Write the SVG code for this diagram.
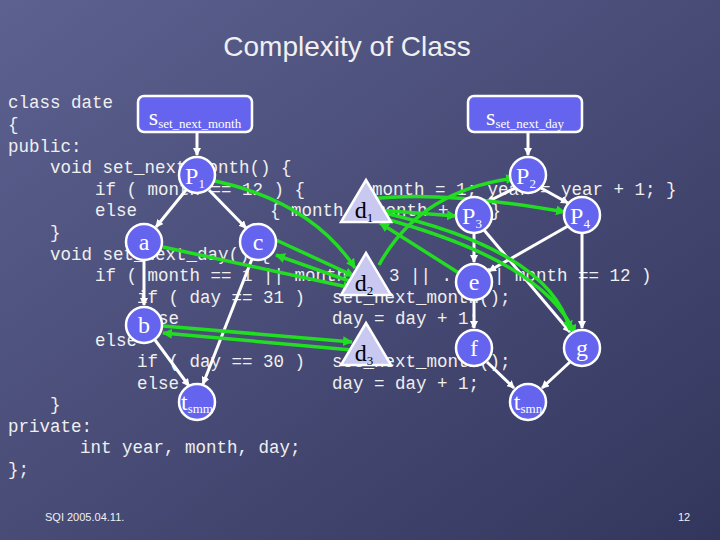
<svg xmlns="http://www.w3.org/2000/svg" width="720" height="540" viewBox="0 0 720 540">
<defs>
<linearGradient id="bg" x1="0" y1="0" x2="1" y2="1"><stop offset="0" stop-color="#5d6190"/><stop offset="1" stop-color="#33365c"/></linearGradient>
<marker id="wa" markerWidth="8" markerHeight="8" refX="7" refY="4" orient="auto" markerUnits="userSpaceOnUse"><path d="M0,0 L8,4 L0,8 Z" fill="#fff"/></marker>
<marker id="ga" markerWidth="10" markerHeight="10" refX="9" refY="5" orient="auto" markerUnits="userSpaceOnUse"><path d="M0,0 L10,5 L0,10 Z" fill="#22dd22"/></marker>
<style>
.code{font-family:"Liberation Mono",monospace;font-size:17.5px;fill:#f0f0f0;white-space:pre}
.nd{fill:#6464ee;stroke:#fff;stroke-width:2.5}
.tri{fill:#c8c8f0;stroke:#fff;stroke-width:2.5}
.lb{font-family:"Liberation Serif",serif;font-size:24px;fill:#fff;text-anchor:middle}
.lbd{font-family:"Liberation Serif",serif;font-size:24px;fill:#000;text-anchor:middle}
.sub{font-size:13px}
.w{stroke:#fff;stroke-width:3;fill:none}
.g{stroke:#22dd22;stroke-width:3.5;fill:none;marker-end:url(#ga)}
</style>
</defs>
<rect width="720" height="540" fill="url(#bg)"/>
<text x="347" y="56" font-family="Liberation Sans,sans-serif" font-size="28" fill="#f0f0f0" text-anchor="middle">Complexity of Class</text>
<g id="code">
<text class="code" x="8" y="108">class date</text>
<text class="code" x="8" y="130">{</text>
<text class="code" x="8" y="152">public:</text>
<text class="code" x="50" y="173">void set_next_month() {</text>
<text class="code" x="95" y="195">if ( month == 12 ) {</text>
<text class="code" x="372" y="195">month = 1; year = year + 1; }</text>
<text class="code" x="95" y="216">else</text>
<text class="code" x="270" y="216">{ month = month + 1; }</text>
<text class="code" x="50" y="238">}</text>
<text class="code" x="50" y="260">void set_next_day() {</text>
<text class="code" x="95" y="281">if ( month == 1 || month == 3 || ... || month == 12 )</text>
<text class="code" x="137" y="303">if ( day == 31 )</text>
<text class="code" x="332" y="303">set_next_month();</text>
<text class="code" x="137" y="324">else</text>
<text class="code" x="332" y="324">day = day + 1;</text>
<text class="code" x="95" y="346">else</text>
<text class="code" x="137" y="367">if ( day == 30 )</text>
<text class="code" x="332" y="367">set_next_month();</text>
<text class="code" x="137" y="389">else</text>
<text class="code" x="332" y="389">day = day + 1;</text>
<text class="code" x="50" y="410">}</text>
<text class="code" x="8" y="432">private:</text>
<text class="code" x="80" y="453">int year, month, day;</text>
<text class="code" x="8" y="475">};</text>
</g>
<g id="connectors">
<line class="w" x1="197" y1="132" x2="197" y2="155" marker-end="url(#wa)"/>
<line class="w" x1="186" y1="190" x2="156" y2="227" marker-end="url(#wa)"/>
<line class="w" x1="209" y1="190" x2="246" y2="228" marker-end="url(#wa)"/>
<line class="w" x1="144" y1="260" x2="144" y2="305" marker-end="url(#wa)"/>
<line class="w" x1="252" y1="259" x2="203" y2="384" marker-end="url(#wa)"/>
<line class="w" x1="155" y1="340" x2="189" y2="386" marker-end="url(#wa)"/>
<line class="w" x1="528" y1="132" x2="528" y2="155" marker-end="url(#wa)"/>
<line class="w" x1="515" y1="188" x2="487" y2="202" marker-end="url(#wa)"/>
<line class="w" x1="541" y1="188" x2="568" y2="203" marker-end="url(#wa)"/>
<line class="w" x1="474" y1="233" x2="474" y2="262" marker-end="url(#wa)"/>
<line class="w" x1="484" y1="230" x2="570" y2="332" marker-end="url(#wa)"/>
<line class="w" x1="568" y1="226" x2="489" y2="271" marker-end="url(#wa)"/>
<line class="w" x1="582" y1="233" x2="582" y2="328" marker-end="url(#wa)"/>
<line class="w" x1="474" y1="300" x2="474" y2="328" marker-end="url(#wa)"/>
<line class="w" x1="487" y1="362" x2="514" y2="388" marker-end="url(#wa)"/>
<line class="w" x1="570" y1="362" x2="542" y2="388" marker-end="url(#wa)"/>
<path class="g" d="M210,180 Q310,200 355,268"/>
<path class="g" d="M163,247 L352,288"/>
<path class="g" d="M276,240 L354,276"/>
<path class="g" d="M352,282 L276,255"/>
<path class="g" d="M163,326 L352,342"/>
<path class="g" d="M352,350 L163,333"/>
<path class="g" d="M379,265 Q420,190 515,178"/>
<path class="g" d="M370,199 Q440,190 565,212"/>
<path class="g" d="M377,210 L456,216"/>
<path class="g" d="M462,275 L380,223"/>
<path class="g" d="M380,212 Q550,250 570,330"/>
<path class="g" d="M382,218 Q545,262 575,334"/>
</g>
<g id="s_set_next_month"><rect x="138" y="96" width="114" height="36" rx="6" class="nd"/><text class="lb" x="195" y="125">s<tspan class="sub" dy="3">set_next_month</tspan></text></g>
<g id="s_set_next_day"><rect x="468" y="96" width="114" height="36" rx="6" class="nd"/><text class="lb" x="525" y="125">s<tspan class="sub" dy="3">set_next_day</tspan></text></g>
<g id="P1"><circle class="nd" cx="197" cy="175" r="18"/><text class="lb" x="195" y="184">P<tspan class="sub" dy="4">1</tspan></text></g>
<g id="a"><circle class="nd" cx="144" cy="242" r="18"/><text class="lb" x="144" y="250">a</text></g>
<g id="c"><circle class="nd" cx="258" cy="242" r="18"/><text class="lb" x="258" y="250">c</text></g>
<g id="b"><circle class="nd" cx="144" cy="325" r="18"/><text class="lb" x="144" y="333">b</text></g>
<g id="tsmm"><circle class="nd" cx="197" cy="402" r="18"/><text class="lb" x="197" y="410">t<tspan class="sub" font-size="10" dy="3">smm</tspan></text></g>
<g id="P2"><circle class="nd" cx="528" cy="175" r="18"/><text class="lb" x="526" y="184">P<tspan class="sub" dy="4">2</tspan></text></g>
<g id="P3"><circle class="nd" cx="474" cy="215" r="18"/><text class="lb" x="472" y="224">P<tspan class="sub" dy="4">3</tspan></text></g>
<g id="P4"><circle class="nd" cx="582" cy="215" r="18"/><text class="lb" x="580" y="224">P<tspan class="sub" dy="4">4</tspan></text></g>
<g id="e"><circle class="nd" cx="474" cy="282" r="18"/><text class="lb" x="474" y="290">e</text></g>
<g id="f"><circle class="nd" cx="474" cy="348" r="18"/><text class="lb" x="474" y="356">f</text></g>
<g id="g"><circle class="nd" cx="582" cy="348" r="18"/><text class="lb" x="582" y="356">g</text></g>
<g id="tsmn"><circle class="nd" cx="528" cy="402" r="18"/><text class="lb" x="528" y="410">t<tspan class="sub" font-size="10" dy="3">smn</tspan></text></g>
<g id="d1"><polygon class="tri" points="366,180 391,222 341,222"/><text class="lbd" x="364" y="218">d<tspan class="sub" dy="4">1</tspan></text></g>
<g id="d2"><polygon class="tri" points="366,253 391,295 341,295"/><text class="lbd" x="364" y="291">d<tspan class="sub" dy="4">2</tspan></text></g>
<g id="d3"><polygon class="tri" points="366,323 391,365 341,365"/><text class="lbd" x="364" y="361">d<tspan class="sub" dy="4">3</tspan></text></g>
<text x="45" y="521" font-family="Liberation Sans,sans-serif" font-size="11" fill="#f0f0f0">SQI 2005.04.11.</text>
<text x="678" y="521" font-family="Liberation Sans,sans-serif" font-size="11" fill="#f0f0f0">12</text>
</svg>
